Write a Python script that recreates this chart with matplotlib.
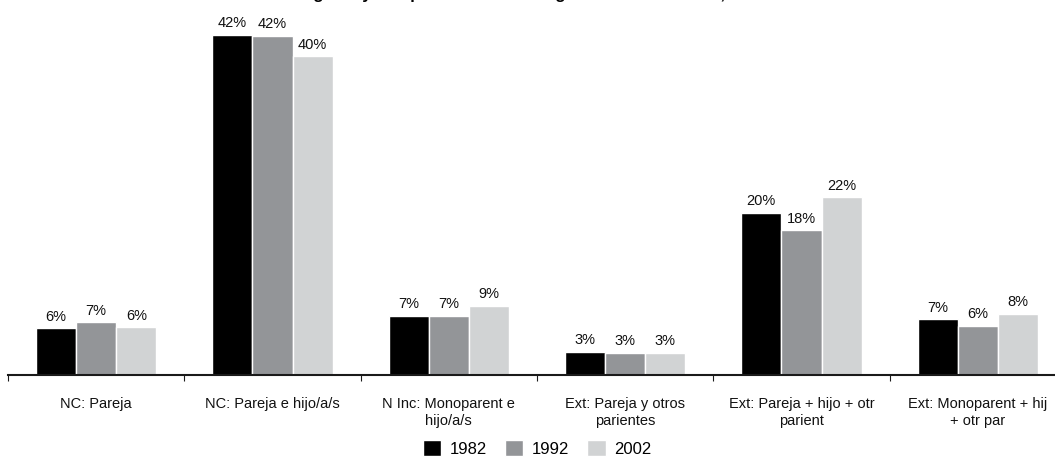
import matplotlib
matplotlib.use("Agg")
import matplotlib.pyplot as plt
import numpy as np

plt.rcParams['font.family'] = ['Liberation Sans', 'DejaVu Sans']
fs = 10.5

categories = [
    "NC: Pareja",
    "NC: Pareja e hijo/a/s",
    "N Inc: Monoparent e\nhijo/a/s",
    "Ext: Pareja y otros\nparientes",
    "Ext: Pareja + hijo + otr\nparient",
    "Ext: Monoparent + hij\n+ otr par",
]
years = ["1982", "1992", "2002"]
v1982 = [5.8, 42.1, 7.34, 2.88, 20.09, 6.93]
v1992 = [6.5, 42.0, 7.34, 2.76, 17.95, 6.1]
v2002 = [5.95, 39.5, 8.58, 2.76, 22.03, 7.59]
colors = ["#000000", "#939598", "#d1d3d4"]
title = "Distribución de hogares y composición de los hogares de Montevideo, 1982-2002"

W, H = 1055, 460
fig = plt.figure(figsize=(W / 100, H / 100), dpi=100)
ax = fig.add_axes([8 / W, 84 / H, 1058 / W, 376 / H])

x = np.arange(len(categories))
bw = 0.228
handles = []
for i, (vals, col, yr) in enumerate(zip([v1982, v1992, v2002], colors, years)):
    xs = x + (i - 1) * bw
    b = ax.bar(xs, vals, width=bw, color=col, edgecolor="white", linewidth=1.0, label=yr)
    handles.append(b)
    for xi, v in zip(xs, vals):
        ax.annotate(f"{int(v + 0.5)}%", (xi, v), xytext=(0, 6), textcoords="offset points",
                    ha="center", va="baseline", fontsize=fs, color="#111111")

ax.set_xlim(-0.5, len(categories) - 0.5)
ax.set_ylim(0, 376 / 8.08)
for s in ["top", "left", "right"]:
    ax.spines[s].set_visible(False)
ax.spines["bottom"].set_linewidth(1.5)
ax.spines["bottom"].set_color("#1a1a1a")
ax.set_yticks([])
ax.set_xticks(x)
ax.set_xticklabels(categories, fontsize=fs, linespacing=1.3, color="#111111")
ax.tick_params(axis="x", which="major", length=0, pad=15)
ax.set_xticks(np.arange(len(categories) + 1) - 0.5, minor=True)
ax.tick_params(axis="x", which="minor", length=4.5, width=0.8, direction="out", color="#1a1a1a")

fig.legend(handles=handles, labels=years, loc="center", bbox_to_anchor=(537 / W, 11 / H),
           ncol=3, frameon=False, fontsize=12, handlelength=1.1, handleheight=1.1,
           handletextpad=0.5, columnspacing=1.1)

fig.text(488 / W, 1 + 1.5 / H, title, ha="center", va="baseline", fontweight="bold", fontsize=12)

fig.savefig("out.png", dpi=100)
